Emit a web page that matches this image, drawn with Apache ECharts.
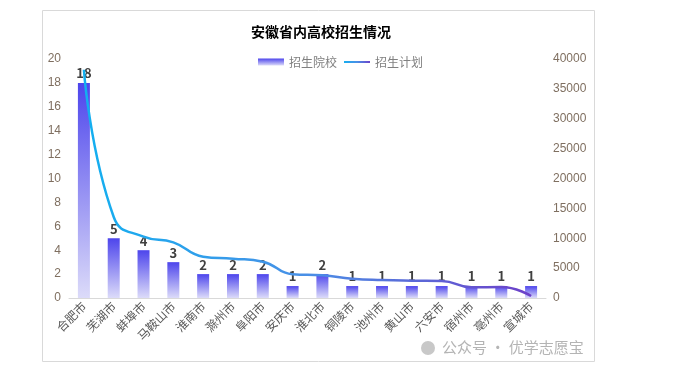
<!DOCTYPE html>
<html><head><meta charset="utf-8">
<script src="https://cdn.jsdelivr.net/npm/echarts@6/dist/echarts.min.js"></script>
<style>html,body{margin:0;padding:0;background:#fff}#c{width:681px;height:376px}</style>
</head><body><div id="c"></div>
<script>
const categories = ['合肥市','芜湖市','蚌埠市','马鞍山市','淮南市','滁州市','阜阳市','安庆市','淮北市','铜陵市','池州市','黄山市','六安市','宿州市','亳州市','宣城市'];
const schools = [18,5,4,3,2,2,2,1,2,1,1,1,1,1,1,1];
const plan = [38200,13550,10260,9320,6920,6580,6080,3960,3790,3240,3010,2900,2850,1790,1840,330];
const leftTicks = [0,2,4,6,8,10,12,14,16,18,20];
const rightTicks = [0,5000,10000,15000,20000,25000,30000,35000,40000];

const FONT = '"Noto Sans CJK SC", "Noto Sans", sans-serif';
const chart = echarts.init(document.getElementById('c'), null, {renderer:'canvas'});
chart.setOption({
  animation:false,
  textStyle:{fontFamily:FONT},
  title:{text:'安徽省内高校招生情况', left:316, top:20, textAlign:'center',
    textStyle:{fontSize:14, fontWeight:'bold', color:'#000', fontFamily:FONT}},
  legend:{left:'center', top:51, itemWidth:26, itemHeight:7, itemGap:6,
    textStyle:{color:'#808080', fontSize:12, fontFamily:FONT},
    data:[{name:'招生院校', icon:'rect'},{name:'招生计划', itemStyle:{opacity:0}}]},
  graphic:[
    {type:'rect', shape:{x:42.5,y:10.5,width:552,height:351}, style:{fill:'none', stroke:'#d9d9d9', lineWidth:1}, silent:true, z:-1},
    {type:'circle', shape:{cx:428, cy:348, r:7}, style:{fill:'#c8c8c8'}},
    {type:'text', left:442, top:340, style:{text:'公众号 · 优学志愿宝', fill:'#b4b4b4', font:'15px "Noto Sans CJK SC"'}}
  ],
  grid:{left:69, right:135, top:59, bottom:78},
  xAxis:{type:'category', data:categories,
    axisLine:{lineStyle:{color:'#d9d9d9'}}, axisTick:{show:false},
    axisLabel:{rotate:45, interval:0, color:'#595959', fontSize:12, fontFamily:FONT, margin:6}},
  yAxis:[
    {type:'value', min:leftTicks[0], max:leftTicks[leftTicks.length-1], interval:2, splitLine:{show:false}, axisLine:{show:false}, axisTick:{show:false},
     axisLabel:{color:'#7f6f60', fontSize:12, margin:8, fontFamily:'Liberation Sans, sans-serif'}},
    {type:'value', min:rightTicks[0], max:rightTicks[rightTicks.length-1], interval:5000, splitLine:{show:false}, axisLine:{show:false}, axisTick:{show:false},
     axisLabel:{color:'#7f6f60', fontSize:12, margin:7, fontFamily:'Liberation Sans, sans-serif', formatter:v=>String(v)}}
  ],
  series:[
    {name:'招生院校', type:'bar', data:schools, barWidth:12, yAxisIndex:0,
     itemStyle:{color:new echarts.graphic.LinearGradient(0,0,0,1,[{offset:0,color:'#4d45ec'},{offset:1,color:'#dcdbf9'}])},
     label:{show:true, position:'top', distance:3, color:'#404040', fontWeight:'bold', fontSize:13, fontFamily:FONT}},
    {name:'招生计划', type:'line', data:plan, yAxisIndex:1, smooth:0.5, symbol:'none',
     lineStyle:{width:2.5, color:new echarts.graphic.LinearGradient(0,0,1,0,[{offset:0,color:'#12b0f0'},{offset:0.5,color:'#4a8fe6'},{offset:1,color:'#6d3fc8'}])},
     itemStyle:{color:new echarts.graphic.LinearGradient(0,0,1,0,[{offset:0,color:'#12b0f0'},{offset:1,color:'#6d3fc8'}])}}
  ]
});
</script></body></html>
